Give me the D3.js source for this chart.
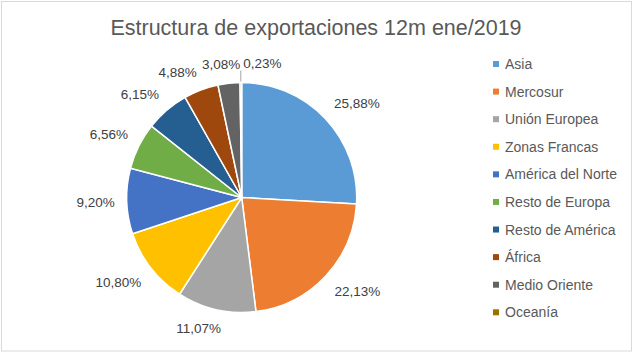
<!DOCTYPE html>
<html>
<head>
<meta charset="utf-8">
<script src="https://cdn.jsdelivr.net/npm/d3@7"></script>
<style>
  html, body { margin: 0; padding: 0; background: #ffffff; }
  svg { display: block; font-family: "Liberation Sans", Arial, sans-serif; }
</style>
</head>
<body>
<script>
// ---- Data ----
const title = "Estructura de exportaciones 12m ene/2019";
const categories = ["Asia", "Mercosur", "Unión Europea", "Zonas Francas", "América del Norte",
                    "Resto de Europa", "Resto de América", "África", "Medio Oriente", "Oceanía"];
const shares = [25.88, 22.13, 11.07, 10.80, 9.20, 6.56, 6.15, 4.88, 3.08, 0.23];
const palette = ["#5B9BD5", "#ED7D31", "#A5A5A5", "#FFC000", "#4472C4",
                 "#70AD47", "#255E91", "#9E480E", "#636363", "#997300"];

// ---- Setup ----
const W = 640, H = 355;
const cx = 241.7, cy = 197.5, R = 115;

const esLocale = d3.formatLocale({ decimal: ",", thousands: ".", grouping: [3], currency: ["", "€"] });
const fmt = v => esLocale.format(".2f")(v) + "%";

const color = d3.scaleOrdinal().domain(categories).range(palette);

const svg = d3.select("body").append("svg")
  .attr("width", W).attr("height", H);

svg.append("rect")
  .attr("x", 1.5).attr("y", 1.5)
  .attr("width", 630).attr("height", 349.5)
  .attr("fill", "#ffffff")
  .attr("stroke", "#d9d9d9").attr("stroke-width", 1);

svg.append("text")
  .attr("x", 316).attr("y", 35)
  .attr("text-anchor", "middle")
  .attr("fill", "#595959")
  .style("font-size", "21.5px")
  .text(title);

// ---- Pie ----
const data = categories.map((c, i) => ({ cat: c, value: shares[i] }));
const pie = d3.pie().value(d => d.value).sort(null);
const arcs = pie(data);
const arc = d3.arc().innerRadius(0).outerRadius(R);

const g = svg.append("g").attr("transform", `translate(${cx},${cy})`);

g.selectAll("path.slice")
  .data(arcs)
  .join("path")
  .attr("class", "slice")
  .attr("d", arc)
  .attr("fill", d => color(d.data.cat))
  .attr("stroke", "#ffffff")
  .attr("stroke-width", 1.5)
  .attr("stroke-linejoin", "round");

// ---- Data labels (outside end, with simple collision avoidance) ----
const gap = 12, lh = 14, k = 3;
const clamp = v => Math.max(-1, Math.min(1, v));
const labelG = g.append("g");
const placed = [];

arcs.forEach(d => {
  const a = (d.startAngle + d.endAngle) / 2;
  const s = Math.sin(a), nc = -Math.cos(a);
  const t = labelG.append("text")
    .attr("text-anchor", "middle")
    .attr("dy", "0.36em")
    .attr("fill", "#404040")
    .style("font-size", "13.5px")
    .text(fmt(d.data.value));
  const w = t.node().getComputedTextLength();
  const px = (R + gap) * s, py = (R + gap) * nc;
  let x = px + (w / 2) * clamp(k * s);
  const y = py + (lh / 2) * clamp(k * nc);
  let moved = false;
  const overlaps = xx => placed.some(b =>
    xx - w / 2 < b.x1 + 2 && xx + w / 2 > b.x0 - 2 && y - lh / 2 < b.y1 && y + lh / 2 > b.y0);
  while (overlaps(x)) { x += 1; moved = true; }
  placed.push({ x0: x - w / 2, x1: x + w / 2, y0: y - lh / 2, y1: y + lh / 2 });
  t.attr("x", x).attr("y", y);
  if (moved) {
    labelG.insert("line", "text")
      .attr("x1", (R + 1) * s).attr("y1", (R + 1) * nc)
      .attr("x2", px).attr("y2", py)
      .attr("stroke", "#a6a6a6").attr("stroke-width", 1);
  }
});

// ---- Legend ----
const ly = d3.scalePoint().domain(categories).range([64, 312.3]);
const legend = svg.append("g");
const items = legend.selectAll("g.item")
  .data(categories)
  .join("g")
  .attr("class", "item")
  .attr("transform", c => `translate(493,${ly(c)})`);

items.append("rect")
  .attr("x", 0).attr("y", -3)
  .attr("width", 6).attr("height", 6)
  .attr("fill", c => color(c));

items.append("text")
  .attr("x", 12).attr("dy", "0.36em")
  .attr("fill", "#595959")
  .style("font-size", "14px")
  .text(c => c);
</script>
</body>
</html>
